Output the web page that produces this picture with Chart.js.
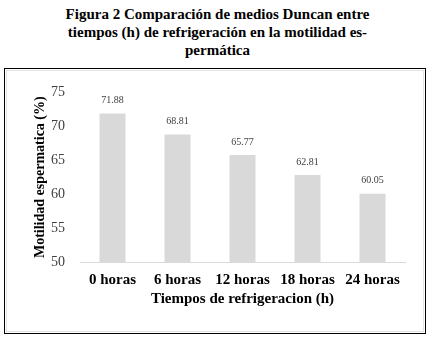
<!DOCTYPE html>
<html>
<head>
<meta charset="utf-8">
<script src="https://cdn.jsdelivr.net/npm/chart.js@4"></script>
<style>
  body { margin: 0; background: #fff; width: 435px; height: 339px; position: relative; overflow: hidden; }
  #title {
    position: absolute; left: 0; top: 5px; width: 435px;
    text-align: center; font-family: "Liberation Serif", "Times New Roman", serif;
    font-weight: bold; font-size: 15px; line-height: 18px; color: #000;
  }
  #box {
    position: absolute; left: 4px; top: 68px; width: 420px; height: 264px;
    border: 1px solid #000;
  }
  #inner {
    position: absolute; left: 1px; top: 1px; right: 1px; bottom: 1px;
    border: 1px solid #e3e3e3;
  }
  #wrap { position: absolute; left: 0; top: 0; width: 420px; height: 264px; }
</style>
</head>
<body>
<div id="title">Figura 2 Comparación de medios Duncan entre<br>tiempos (h) de refrigeración en la motilidad es-<br>permática</div>
<div id="box">
  <div id="inner"></div>
  <div id="wrap"><canvas id="chart"></canvas></div>
</div>
<script>
// Data
const categories = ["0 horas", "6 horas", "12 horas", "18 horas", "24 horas"];
const motilidad = [71.88, 68.81, 65.77, 62.81, 60.05];
const yTicks = [50, 55, 60, 65, 70, 75];

const serif = "'Liberation Serif', 'Times New Roman', serif";

// value labels above the bars
const valueLabels = {
  id: "valueLabels",
  afterDatasetsDraw(chart) {
    const ctx = chart.ctx;
    const meta = chart.getDatasetMeta(0);
    ctx.save();
    ctx.font = "10px " + serif;
    ctx.fillStyle = "#404040";
    ctx.textAlign = "center";
    ctx.textBaseline = "bottom";
    meta.data.forEach((bar, i) => {
      ctx.fillText(motilidad[i].toFixed(2), bar.x, bar.y - 8);
    });
    ctx.restore();
  }
};

new Chart(document.getElementById("chart"), {
  type: "bar",
  data: {
    labels: categories,
    datasets: [{
      data: motilidad,
      backgroundColor: "#d9d9d9",
      barPercentage: 0.4,
      categoryPercentage: 1
    }]
  },
  options: {
    responsive: true,
    maintainAspectRatio: false,
    animation: false,
    layout: { padding: { top: 18, right: 20, left: 0, bottom: 0 } },
    plugins: {
      legend: { display: false },
      tooltip: { enabled: false }
    },
    scales: {
      x: {
        grid: { display: false, drawTicks: false },
        border: { display: true, color: "#d9d9d9", width: 1 },
        ticks: { padding: 9, color: "#000", font: { family: serif, size: 15, weight: "bold" } },
        title: {
          display: true,
          text: "Tiempos de refrigeracion (h)",
          color: "#000",
          font: { family: serif, size: 15, weight: "bold" },
          padding: { top: 0, bottom: 25 }
        },
        afterFit(scale) { scale.height = 71; }
      },
      y: {
        min: 50,
        max: 75,
        grid: { display: false, drawTicks: false },
        border: { display: false },
        afterBuildTicks(scale) { scale.ticks = yTicks.map(v => ({ value: v })); },
        ticks: { padding: 15, color: "#404040", font: { family: serif, size: 14 } },
        title: {
          display: true,
          text: "Motilidad espermatica (%)",
          color: "#000",
          font: { family: serif, size: 14, weight: "bold" },
          padding: { top: 27, bottom: 0 }
        },
        afterFit(scale) { scale.width = 75; }
      }
    }
  },
  plugins: [valueLabels]
});
</script>
</body>
</html>
